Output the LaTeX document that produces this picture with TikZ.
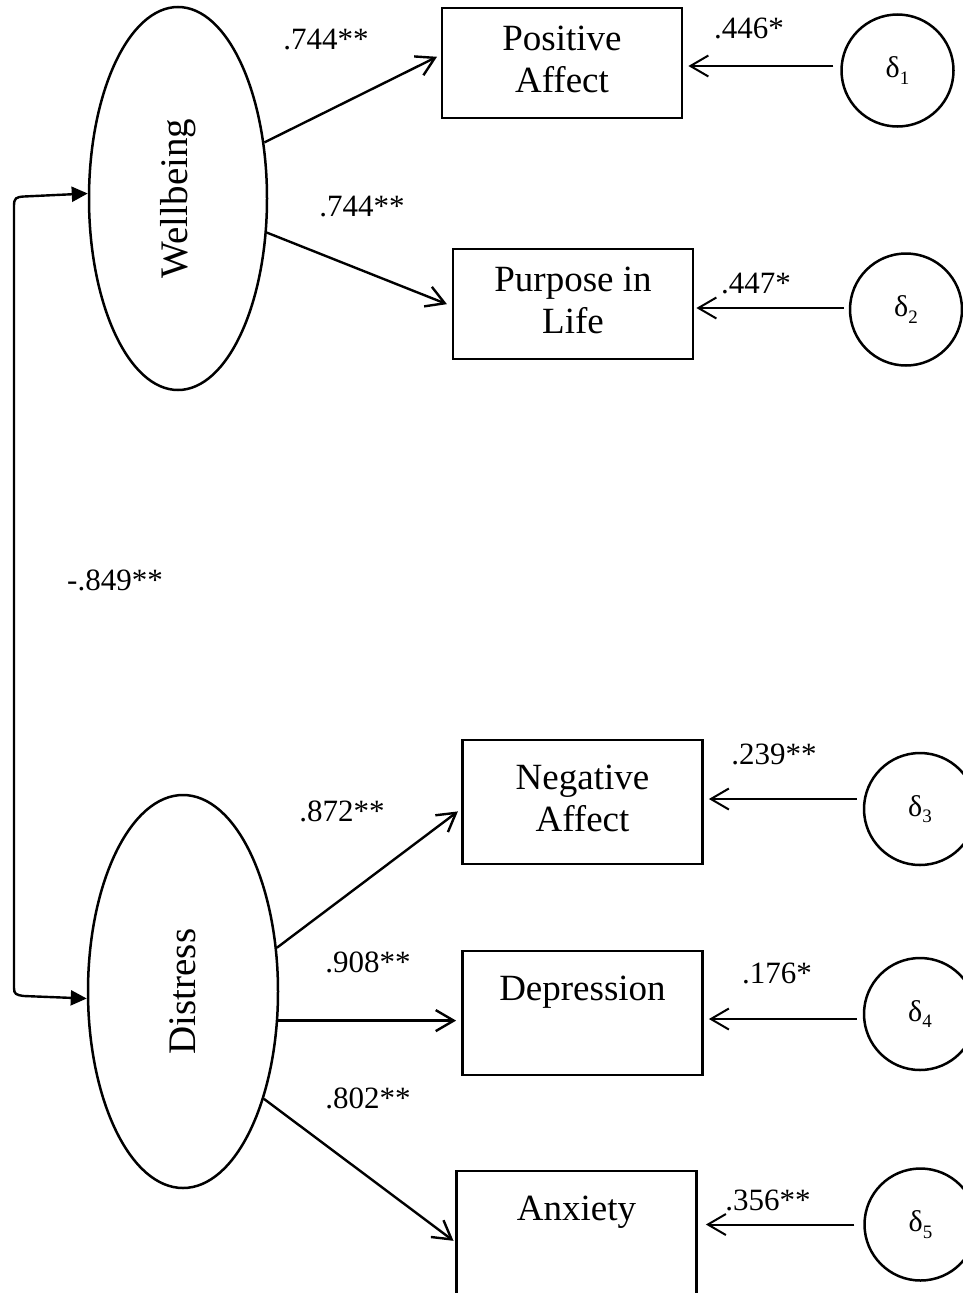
\documentclass[tikz,border=0pt]{standalone}
\usepackage{fontspec}
\setmainfont{Liberation Serif}
\usepackage{graphicx}
\usetikzlibrary{arrows.meta,shapes.geometric}
\newcommand\semboxfont{\fontsize{37}{42}\selectfont}
\newcommand\semlabfont{\fontsize{31}{36}\selectfont}
\newcommand\semlatfont{\fontsize{39}{44}\selectfont}
\newcommand\semdelfont{\fontsize{30}{34}\selectfont}
\newcommand\semsub[1]{\raisebox{-0.22em}{\fontsize{19}{21}\selectfont #1}}
\begin{document}
\begin{tikzpicture}[x=1pt,y=-1pt,
  obs/.style={draw, rectangle, line width=2.8pt, minimum width=240pt, inner sep=0pt, align=center, font=\semboxfont},
  lat/.style={draw, ellipse, line width=2.5pt, inner sep=0pt, font=\semlatfont},
  err/.style={draw, circle, line width=2.5pt, minimum size=112pt, inner sep=0pt, font=\semdelfont},
  lab/.style={font=\semlabfont, inner sep=0pt},
  ld/.style={line width=2.4pt, -{Straight Barb[length=18pt,width=21pt]}},
  erra/.style={line width=2pt, -{Straight Barb[length=18pt,width=21pt]}},
  corr/.style={line width=2.4pt, {Triangle[length=16pt,width=15pt]}-{Triangle[length=16pt,width=15pt]}}
]
\useasboundingbox (0,0) rectangle (963,1293);
\clip (0,0) rectangle (963,1293);

% latent variables
\node[lat, minimum width=178pt, minimum height=383pt] (wb) at (178,198.5) {\rotatebox{90}{Wellbeing}};
\node[lat, minimum width=190pt, minimum height=393pt] (ds) at (183,991.5) {\rotatebox{90}{Distress}};

% observed variables
\node[obs, minimum height=110pt] (pa) at (562,63) {Positive\strut\\Affect\strut};
\node[obs, minimum height=110pt] (pl) at (573,304) {Purpose in\strut\\Life\strut};
\node[obs, minimum height=124pt] (na) at (582.5,802) {Negative\strut\\Affect\strut};
\node[obs, minimum height=124pt] (dp) at (582.5,1013) {Depression\strut\\\strut};
\node[obs, minimum height=124pt] (ax) at (576.5,1233) {Anxiety\strut\\\strut};

% error terms
\node[err] (d1) at (897.5,70.5) {δ\semsub{1}};
\node[err] (d2) at (906,309.5) {δ\semsub{2}};
\node[err] (d3) at (920,809) {δ\semsub{3}};
\node[err] (d4) at (920,1014) {δ\semsub{4}};
\node[err] (d5) at (920.5,1224.5) {δ\semsub{5}};

% loadings
\draw[ld, shorten >=4pt] (wb.33) -- ([yshift=8pt]pa.west);
\draw[ld, shorten >=5pt] (wb.-21) -- ([yshift=-2pt]pl.west);
\draw[ld, shorten >=4pt] (ds.25) -- ([yshift=-7pt]na.west);
\draw[ld, shorten >=5pt] (ds.-17) -- (ds.-17 -| dp.west);
\draw[ld, shorten >=2pt] (ds.-53) -- ([yshift=-9pt]ax.west);

% error arrows
\draw[erra, shorten <=7pt, shorten >=5pt] ([yshift=4.5pt]d1.west) -- ([yshift=4.5pt]d1.west -| pa.east);
\draw[erra, shorten <=5pt, shorten >=2pt] ([yshift=1.5pt]d2.west) -- ([yshift=1.5pt]d2.west -| pl.east);
\draw[erra, shorten <=6pt, shorten >=5pt] ([yshift=10pt]d3.west) -- ([yshift=10pt]d3.west -| na.east);
\draw[erra, shorten <=6pt, shorten >=5pt] ([yshift=-5pt]d4.west) -- ([yshift=-5pt]d4.west -| dp.east);
\draw[erra, shorten <=9pt, shorten >=8pt] (d5.west) -- (d5.west -| ax.east);

% correlation
\draw[corr] ([yshift=5pt]wb.west) -- (24,196.5) .. controls (16,197) and (14,198) .. (14,206)
  -- (14,988) .. controls (14,994) and (16,995) .. (24,996) -- ([yshift=-7pt]ds.west);

% labels
\node[lab] (lpa) at (326,40) {.744**};
\node[lab] (lpl) at (362,207) {.744**};
\node[lab] (le1) at (749,28) {.446*};
\node[lab] (le2) at (756,284) {.447*};
\node[lab] (lcor) at (115,580) {-.849**};
\node[lab] (lna) at (342,811) {.872**};
\node[lab] (ldp) at (368,962) {.908**};
\node[lab] (lax) at (368,1098) {.802**};
\node[lab] (le3) at (774,754) {.239**};
\node[lab] (le4) at (777,973) {.176*};
\node[lab] (le5) at (768,1200) {.356**};
\end{tikzpicture}
\end{document}
